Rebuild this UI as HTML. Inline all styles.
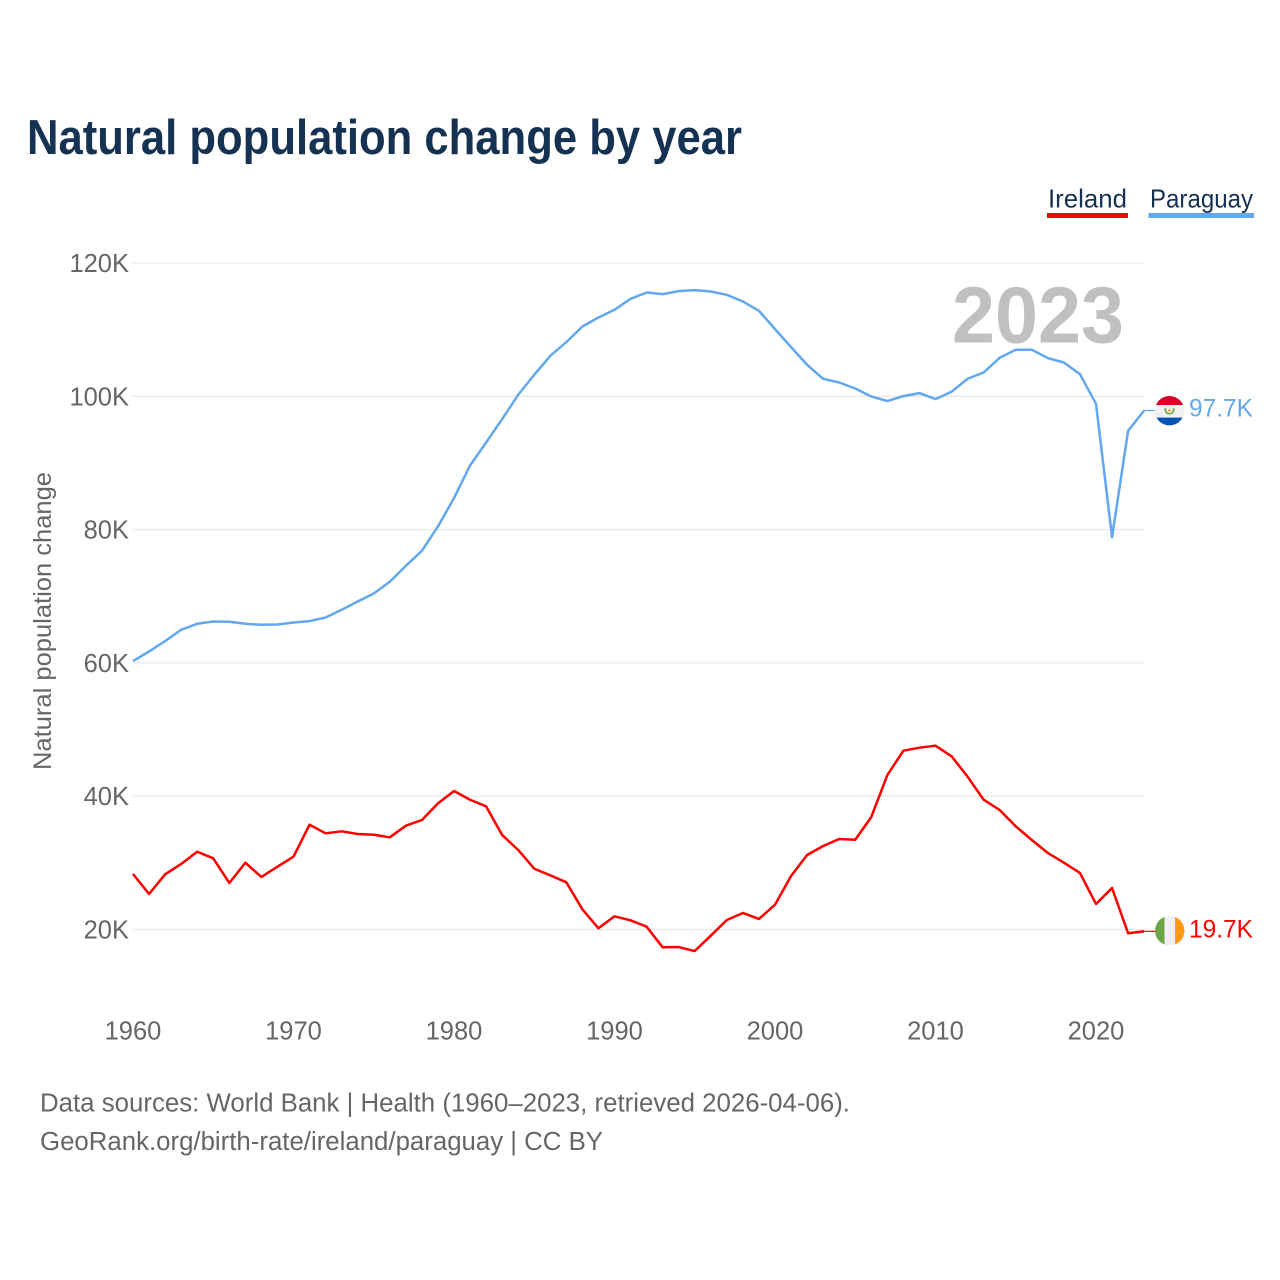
<!DOCTYPE html>
<html lang="en">
<head>
<meta charset="utf-8">
<title>Natural population change by year</title>
<style>
  html, body { margin: 0; padding: 0; background: #ffffff; }
  svg { display: block; }
  text { font-family: "Liberation Sans", sans-serif; }
</style>
</head>
<body>
<svg id="chart" xmlns="http://www.w3.org/2000/svg" width="1280" height="1280" viewBox="0 0 1280 1280">
  <rect x="0" y="0" width="1280" height="1280" fill="#ffffff"/>
  <text x="27" y="154" font-size="49" font-weight="700" fill="#163253" textLength="715" lengthAdjust="spacingAndGlyphs">Natural population change by year</text>

  <g>
    <g>
      <text x="1048" y="207.5" font-size="26" fill="#163253" textLength="79" lengthAdjust="spacingAndGlyphs">Ireland</text>
      <rect x="1047" y="213" width="81" height="5" fill="#ff0000"/>
    </g>
    <g>
      <text x="1150" y="207.5" font-size="26" fill="#163253" textLength="103" lengthAdjust="spacingAndGlyphs">Paraguay</text>
      <rect x="1148.5" y="213" width="105.5" height="5" fill="#62a8ee"/>
    </g>
  </g>

  <g id="grid"></g>
  <g id="y-ticks"></g>
  <g id="x-ticks"></g>

  <text transform="translate(51 770) rotate(-90)" x="0" y="0" font-size="25" fill="#666666" textLength="298" lengthAdjust="spacingAndGlyphs">Natural population change</text>

  <text x="952" y="342.5" font-size="80" font-weight="700" fill="#c0c0c0" textLength="172" lengthAdjust="spacingAndGlyphs">2023</text>

  <g id="series"></g>

  <defs>
    <clipPath id="flag-clip-py"><circle cx="1169.5" cy="410.7" r="14.7"/></clipPath>
    <clipPath id="flag-clip-ie"><circle cx="1169.7" cy="930.7" r="14.7"/></clipPath>
  </defs>

  <g clip-path="url(#flag-clip-py)">
    <rect x="1154" y="395" width="31" height="32" fill="#f0f0f0"/>
    <rect x="1154" y="395" width="31" height="10" fill="#d80027"/>
    <rect x="1154" y="417.6" width="31" height="9.4" fill="#0052b4"/>
    <path d="M1165.6 408 A4.2 4.2 0 1 0 1173.4 408" fill="none" stroke="#6da544" stroke-width="1.6"/>
    <circle cx="1169.5" cy="410.5" r="1.2" fill="#ff9811"/>
  </g>
  <g clip-path="url(#flag-clip-ie)">
    <rect x="1155" y="916" width="10" height="30" fill="#6da544"/>
    <rect x="1164.5" y="916" width="10.5" height="30" fill="#f0f0f0"/>
    <rect x="1175" y="916" width="10" height="30" fill="#ff9811"/>
  </g>

  <text x="1189" y="416.5" font-size="25" fill="#62a8ee" textLength="64" lengthAdjust="spacingAndGlyphs">97.7K</text>
  <text x="1189" y="937.5" font-size="25" fill="#ff0000" textLength="64" lengthAdjust="spacingAndGlyphs">19.7K</text>

  <text x="40" y="1111.5" font-size="25.5" fill="#666666" textLength="810" lengthAdjust="spacingAndGlyphs">Data sources: World Bank | Health (1960–2023, retrieved 2026-04-06).</text>
  <a><text x="40" y="1150" font-size="25.5" fill="#666666" textLength="563" lengthAdjust="spacingAndGlyphs">GeoRank.org/birth-rate/ireland/paraguay | CC BY</text></a>
</svg>

<script>
const years = [1960,1961,1962,1963,1964,1965,1966,1967,1968,1969,1970,1971,1972,1973,1974,1975,1976,1977,1978,1979,1980,1981,1982,1983,1984,1985,1986,1987,1988,1989,1990,1991,1992,1993,1994,1995,1996,1997,1998,1999,2000,2001,2002,2003,2004,2005,2006,2007,2008,2009,2010,2011,2012,2013,2014,2015,2016,2017,2018,2019,2020,2021,2022,2023];
const irelandValues = [28.33,25.33,28.28,29.83,31.67,30.68,26.98,30.02,27.88,29.42,30.92,35.72,34.43,34.73,34.33,34.22,33.83,35.57,36.43,38.93,40.78,39.47,38.48,34.18,31.93,29.12,28.13,27.08,23.03,20.18,21.98,21.38,20.42,17.33,17.37,16.77,19.07,21.43,22.48,21.58,23.72,28.03,31.18,32.53,33.58,33.47,36.88,43.18,46.83,47.28,47.58,45.99,42.93,39.47,37.93,35.48,33.43,31.48,30.02,28.48,23.83,26.23,19.43,19.73];
const paraguayValues = [60.27,61.71,63.27,64.97,65.87,66.21,66.17,65.87,65.72,65.76,66.06,66.27,66.81,67.97,69.21,70.41,72.17,74.57,76.82,80.47,84.73,89.62,93.07,96.58,100.23,103.23,106.08,108.13,110.47,111.82,112.98,114.63,115.57,115.33,115.78,115.93,115.72,115.23,114.22,112.83,110.08,107.38,104.73,102.63,102.07,101.17,99.97,99.28,100.03,100.48,99.58,100.68,102.63,103.57,105.78,106.98,106.98,105.73,105.07,103.33,98.87,78.87,94.82,97.87];
const yTickValues = [20,40,60,80,100,120];
const yTickLabels = ["20K","40K","60K","80K","100K","120K"];
const xTickValues = [1960,1970,1980,1990,2000,2010,2020];

const SVG_NS = "http://www.w3.org/2000/svg";
const xScale = function (year) { return 133 + (year - 1960) * 16.05; };
const yScale = function (value) { return 929.5 - (value - 20) * 6.665; };
const gridLayer = document.getElementById("grid");
const yTickLayer = document.getElementById("y-ticks");
const xTickLayer = document.getElementById("x-ticks");
const seriesLayer = document.getElementById("series");

yTickValues.forEach(function (value, i) {
  const line = document.createElementNS(SVG_NS, "line");
  line.setAttribute("x1", xScale(1960));
  line.setAttribute("x2", xScale(2023));
  line.setAttribute("y1", yScale(value));
  line.setAttribute("y2", yScale(value));
  line.setAttribute("stroke", "#e9e9e9");
  line.setAttribute("stroke-width", "1.3");
  
  
  gridLayer.appendChild(line);

  const label = document.createElementNS(SVG_NS, "text");
  label.setAttribute("x", 129);
  label.setAttribute("y", yScale(value) + 9);
  label.setAttribute("text-anchor", "end");
  label.setAttribute("font-size", "25.5");
  label.setAttribute("fill", "#666666");
  label.textContent = yTickLabels[i];
  
  
  yTickLayer.appendChild(label);
});

xTickValues.forEach(function (year) {
  const label = document.createElementNS(SVG_NS, "text");
  label.setAttribute("x", xScale(year));
  label.setAttribute("y", 1039.5);
  label.setAttribute("text-anchor", "middle");
  label.setAttribute("font-size", "25.5");
  label.setAttribute("fill", "#666666");
  label.textContent = String(year);
  
  
  xTickLayer.appendChild(label);
});

function buildPoints(values) {
  return values.map(function (value, i) {
    return xScale(years[i]).toFixed(2) + "," + yScale(value).toFixed(2);
  }).join(" ");
}

const paraguayLine = document.createElementNS(SVG_NS, "polyline");
paraguayLine.setAttribute("points", buildPoints(paraguayValues));
paraguayLine.setAttribute("fill", "none");
paraguayLine.setAttribute("stroke", "#62a8ee");
paraguayLine.setAttribute("stroke-width", "2.5");
paraguayLine.setAttribute("stroke-linejoin", "round");


seriesLayer.appendChild(paraguayLine);

const irelandLine = document.createElementNS(SVG_NS, "polyline");
irelandLine.setAttribute("points", buildPoints(irelandValues));
irelandLine.setAttribute("fill", "none");
irelandLine.setAttribute("stroke", "#ff0000");
irelandLine.setAttribute("stroke-width", "2.5");
irelandLine.setAttribute("stroke-linejoin", "round");


seriesLayer.appendChild(irelandLine);

const paraguayConnector = document.createElementNS(SVG_NS, "line");
paraguayConnector.setAttribute("x1", xScale(2023));
paraguayConnector.setAttribute("x2", xScale(2023) + 11);
paraguayConnector.setAttribute("y1", yScale(paraguayValues[paraguayValues.length - 1]));
paraguayConnector.setAttribute("y2", yScale(paraguayValues[paraguayValues.length - 1]));
paraguayConnector.setAttribute("stroke", "#62a8ee");
paraguayConnector.setAttribute("stroke-width", "1.2");


seriesLayer.appendChild(paraguayConnector);

const irelandConnector = document.createElementNS(SVG_NS, "line");
irelandConnector.setAttribute("x1", xScale(2023));
irelandConnector.setAttribute("x2", xScale(2023) + 11);
irelandConnector.setAttribute("y1", yScale(irelandValues[irelandValues.length - 1]));
irelandConnector.setAttribute("y2", yScale(irelandValues[irelandValues.length - 1]));
irelandConnector.setAttribute("stroke", "#ff0000");
irelandConnector.setAttribute("stroke-width", "1.2");


seriesLayer.appendChild(irelandConnector);
</script>
</body>
</html>
